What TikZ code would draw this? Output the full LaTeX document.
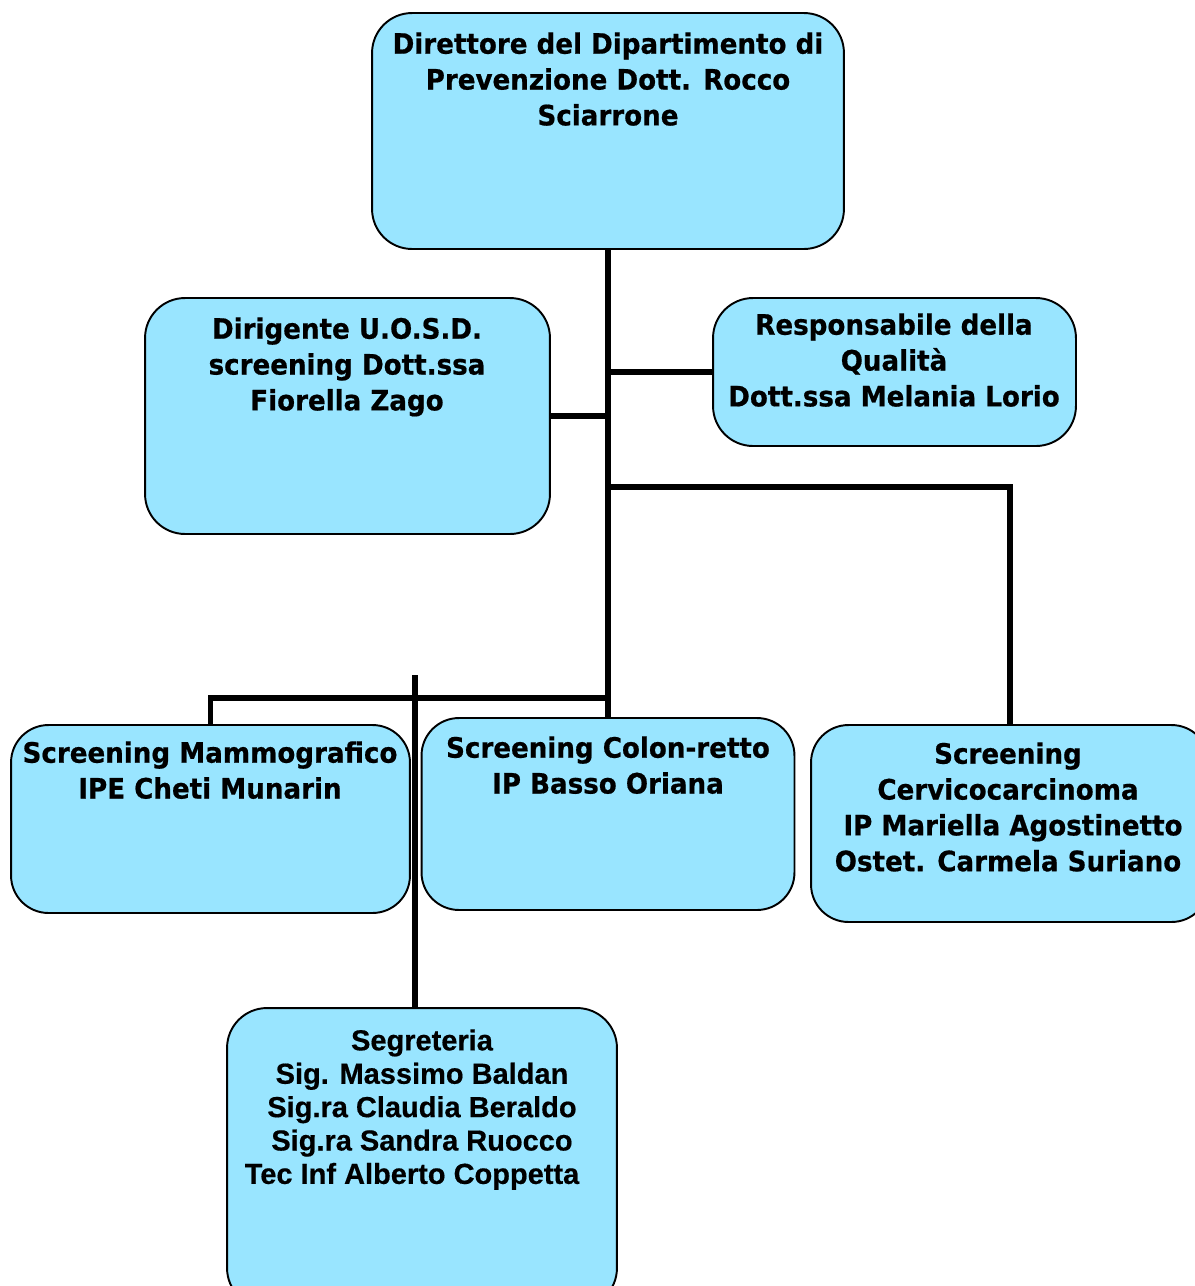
\documentclass[tikz,border=0pt]{standalone}
\usepackage{fontspec}
\setmainfont{DejaVu Sans}[BoldFeatures={FakeStretch=0.93, FakeBold=0.6}]
\newfontfamily\arialfont{Liberation Sans}[BoldFeatures={FakeBold=0.5}]
\usepackage{tikz}
\usetikzlibrary{positioning}
\definecolor{boxBlue}{HTML}{99E5FF}

\begin{document}
\begin{tikzpicture}[
    x=0.02cm, y=-0.02cm,
    font=\fontsize{16}{20.4}\selectfont\bfseries,
    box/.style={rectangle, draw, rounded corners=0.8cm, fill=boxBlue, line width=1.1pt, inner sep=0pt},
    lbl/.style={anchor=north, align=center, inner sep=0pt},
    link/.style={line width=3.4pt}
]
\clip (0,0) rectangle (1195,1286);

\node[box, minimum width=9.44cm, minimum height=4.72cm] (dir) at (608,131) {};
\node[box, minimum width=8.1cm, minimum height=4.72cm] (dirig) at (347.5,416) {};
\node[box, minimum width=7.26cm, minimum height=2.96cm] (resp) at (894.5,372) {};
\node[box, minimum width=7.98cm, minimum height=3.76cm, rounded corners=0.75cm] (mammo) at (210.5,819) {};
\node[box, minimum width=7.46cm, minimum height=3.84cm, rounded corners=0.75cm] (colon) at (608,814) {};
\node[box, minimum width=7.96cm, minimum height=3.94cm, rounded corners=0.75cm] (cervico) at (1010,823.5) {};
\node[box, minimum width=7.8cm, minimum height=6cm, rounded corners=0.8cm] (segr) at (422,1158) {};

\node[lbl] (dirtxt) at (608,32) {Direttore del Dipartimento di\\Prevenzione Dott. Rocco\\Sciarrone};
\node[lbl] (dirigtxt) at (347,317) {Dirigente U.O.S.D.\\screening Dott.ssa\\Fiorella Zago};
\node[lbl] (resptxt) at (894,313) {Responsabile della\\Qualità\\Dott.ssa Melania Lorio};
\node[lbl] (mammotxt) at (210,741) {Screening Mammografico\\IPE Cheti Munarin};
\node[lbl] (colontxt) at (608,736) {Screening Colon-retto\\IP Basso Oriana};
\node[lbl] (cervicotxt) at (1008,742) {Screening\\Cervicocarcinoma\\\hspace*{0.2cm}IP Mariella Agostinetto\\Ostet. Carmela Suriano};
\node[lbl, font=\arialfont\fontsize{16.5}{19}\selectfont\bfseries] (segrtxt) at (422,1029) {Segreteria\\Sig. Massimo Baldan\\Sig.ra Claudia Beraldo\\Sig.ra Sandra Ruocco\\Tec Inf Alberto Coppetta\hspace*{0.4cm}};

% connectors
\coordinate (cbranch) at (608,487);
\coordinate (lbar) at (608,698);
\coordinate (stop) at (415,675);
\draw[link] (dir.south) -- (colon.north);
\draw[link] (resp.west) -- (resp.west -| dir.south);
\draw[link] (dirig.east) -- (dirig.east -| dir.south);
\draw[link] (cbranch) -| (cervico.north);
\draw[link] (mammo.north) |- (lbar);
\draw[link] (stop) -- (stop |- segr.north);

\end{tikzpicture}
\end{document}
